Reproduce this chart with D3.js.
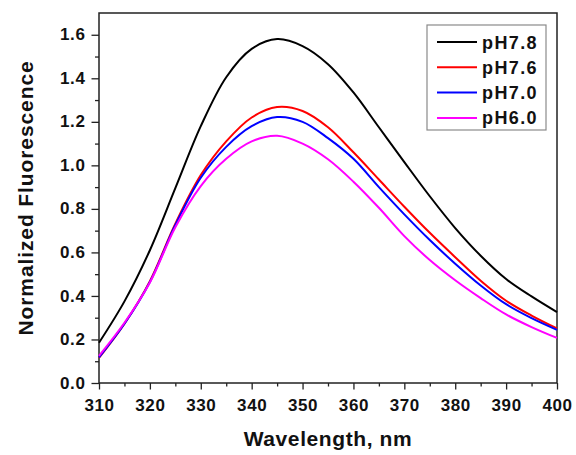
<!DOCTYPE html>
<html>
<head>
<meta charset="utf-8">
<script src="https://cdn.jsdelivr.net/npm/d3@7"></script>
<style>
  html, body { margin: 0; padding: 0; background: #fff; }
  svg { display: block; font-family: "Liberation Sans", Arial, sans-serif; font-weight: bold; }
</style>
</head>
<body>
<svg id="chart" width="576" height="455"></svg>
<script>
const wavelengths = [310,315,320,325,330,335,340,345,350,355,360,365,370,375,380,385,390,395,400];
const pH78 = [0.185,0.375,0.61,0.895,1.18,1.405,1.535,1.58,1.548,1.465,1.335,1.175,1.015,0.858,0.712,0.585,0.478,0.398,0.326];
const pH76 = [0.115,0.272,0.468,0.732,0.955,1.11,1.22,1.268,1.25,1.175,1.06,0.935,0.81,0.69,0.578,0.47,0.378,0.31,0.251];
const pH70 = [0.118,0.272,0.464,0.726,0.943,1.085,1.18,1.222,1.20,1.125,1.03,0.90,0.775,0.657,0.548,0.448,0.362,0.298,0.244];
const pH60 = [0.125,0.277,0.462,0.716,0.905,1.03,1.11,1.136,1.10,1.028,0.925,0.805,0.675,0.565,0.472,0.39,0.315,0.257,0.207];
const seriesNames = ["pH7.8","pH7.6","pH7.0","pH6.0"];
const seriesColors = ["#000000","#ff0000","#0000ff","#ff00ff"];
const seriesValues = [pH78, pH76, pH70, pH60];
const xTicks = [310,320,330,340,350,360,370,380,390,400];
const yTicks = [0.0,0.2,0.4,0.6,0.8,1.0,1.2,1.4,1.6];
const xTitle = "Wavelength, nm";
const yTitle = "Normalized Fluorescence";

const svg = d3.select("#chart");
const L = 99, T = 13, R = 557, B = 383;
const x = d3.scaleLinear().domain([310,400]).range([L,R]);
const y = d3.scaleLinear().domain([0,1.7]).range([B,T]);
const axisColor = "#222";

// minor ticks
const xMinor = d3.range(315, 400, 10);
const yMinor = d3.range(0.1, 1.7, 0.2);
svg.append("g").attr("transform", `translate(0,${B})`)
  .call(d3.axisBottom(x).tickValues(xMinor).tickSize(3.5).tickFormat(""))
  .call(g => g.select(".domain").remove())
  .call(g => g.selectAll("line").attr("stroke", axisColor).attr("stroke-width", 1.3));
svg.append("g").attr("transform", `translate(${L},0)`)
  .call(d3.axisLeft(y).tickValues(yMinor).tickSize(4).tickFormat(""))
  .call(g => g.select(".domain").remove())
  .call(g => g.selectAll("line").attr("stroke", axisColor).attr("stroke-width", 1.3));

// major axes
const xAxis = svg.append("g").attr("transform", `translate(0,${B})`)
  .call(d3.axisBottom(x).tickValues(xTicks).tickSize(6.5).tickPadding(5).tickFormat(d3.format("d")));
const yAxis = svg.append("g").attr("transform", `translate(${L},0)`)
  .call(d3.axisLeft(y).tickValues(yTicks).tickSize(7.5).tickPadding(6).tickFormat(d3.format(".1f")));
[xAxis, yAxis].forEach(g => {
  g.select(".domain").remove();
  g.selectAll("line").attr("stroke", axisColor).attr("stroke-width", 1.3);
  g.selectAll("text").attr("fill", "#111").attr("font-size", 17).attr("font-weight", "bold")
    .attr("font-family", "Liberation Sans, Arial, sans-serif").style("letter-spacing", "0.6px");
});
xAxis.selectAll("text").attr("dy", "0.95em");
yAxis.selectAll("text").attr("dy", "0.3em");

// frame
svg.append("rect").attr("x", L).attr("y", T).attr("width", R - L).attr("height", B - T)
  .attr("fill", "none").attr("stroke", axisColor).attr("stroke-width", 1.5);

// lines
const line = d3.line().curve(d3.curveCatmullRom.alpha(0.5))
  .x((d, i) => x(wavelengths[i])).y(d => y(d));
seriesValues.forEach((vals, k) => {
  svg.append("path").datum(vals).attr("d", line)
    .attr("fill", "none").attr("stroke", seriesColors[k]).attr("stroke-width", 2);
});

// legend
const lg = svg.append("g");
lg.append("rect").attr("x", 427).attr("y", 25).attr("width", 119).attr("height", 105)
  .attr("fill", "#fff").attr("stroke", "#8a8a8a").attr("stroke-width", 1.2);
seriesNames.forEach((n, k) => {
  const yy = 42 + k * 25.3;
  lg.append("line").attr("x1", 437).attr("x2", 477).attr("y1", yy).attr("y2", yy)
    .attr("stroke", seriesColors[k]).attr("stroke-width", 2);
  lg.append("text").attr("x", 482).attr("y", yy + 6.5).text(n)
    .attr("font-size", 18).attr("fill", "#111").style("letter-spacing", "1.4px");
});

// titles
svg.append("text").attr("x", (L + R) / 2).attr("y", 446).attr("text-anchor", "middle")
  .attr("font-size", 21).attr("fill", "#111").style("letter-spacing", "0.6px").text(xTitle);
svg.append("text").attr("transform", `translate(33,${(T + B) / 2}) rotate(-90)`)
  .attr("text-anchor", "middle").attr("font-size", 21).attr("fill", "#111")
  .style("letter-spacing", "0.9px").text(yTitle);
</script>
</body>
</html>
